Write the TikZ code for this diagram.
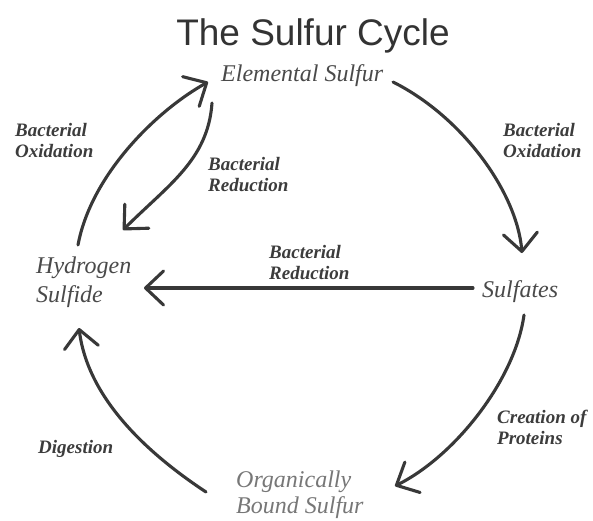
\documentclass[tikz,border=0pt]{standalone}
\usepackage{fontspec}
\setmainfont{Liberation Serif}
\newfontfamily\titlefont{Liberation Sans}
\usetikzlibrary{arrows.meta}
\definecolor{linec}{HTML}{383838}
\definecolor{maintext}{HTML}{4A4A4A}
\definecolor{lighttext}{HTML}{777777}
\definecolor{labeltext}{HTML}{3C3C3C}
\definecolor{titletext}{HTML}{333333}
\begin{document}
\begin{tikzpicture}[x=1pt,y=-1pt,
  arr/.style={line width=3.1pt, draw=linec, line cap=round, line join=round,
    -{Straight Barb[length=18pt,width=34pt,round]}},
  main/.style={inner sep=0pt, text=maintext, font=\itshape\fontsize{24}{29}\selectfont, align=left},
  lbl/.style={inner sep=0pt, text=labeltext, font=\bfseries\itshape\fontsize{19}{21}\selectfont, align=left},
]
\fill[white] (0,0) rectangle (593,520);
\useasboundingbox (0,0) rectangle (593,520);

% title
\node[anchor=base, inner sep=0pt, text=titletext, font=\titlefont\fontsize{37}{40}\selectfont] (title) at (313,45) {The Sulfur Cycle};

% compounds
\node[main, anchor=base west] (es) at (221,81) {Elemental Sulfur};
\node[main, anchor=north west] (hs) at (36,257) {Hydrogen\\Sulfide};
\node[main, anchor=base west] (sf) at (482,297) {Sulfates};
\node[main, anchor=north west, text=lighttext, font=\itshape\fontsize{24}{26}\selectfont] (ob) at (236,471) {Organically\\Bound Sulfur};

% process labels
\node[lbl, anchor=north west] (l1) at (15,123) {Bacterial\\Oxidation};
\node[lbl, anchor=north west] (l2) at (208,157) {Bacterial\\Reduction};
\node[lbl, anchor=north west] (l3) at (503,123) {Bacterial\\Oxidation};
\node[lbl, anchor=north west] (l4) at (269,245) {Bacterial\\Reduction};
\node[lbl, anchor=north west] (l5) at (497,410) {Creation of\\Proteins};
\node[lbl, anchor=north west] (l6) at (38,440) {Digestion};

% connector end points
\coordinate (hsN) at (78,245);
\coordinate (hsE) at (144,288);
\coordinate (hsNE) at (123,230);
\coordinate (hsS) at (79,328);
\coordinate (esW) at (208,82);
\coordinate (esSW) at (212,103);
\coordinate (esE) at (393,82);
\coordinate (sfN) at (522,253);
\coordinate (sfW) at (473,288);
\coordinate (sfS) at (524,315);
\coordinate (obE) at (395,486);
\coordinate (obW) at (206,492);

% connectors
\draw[arr] (hsN) .. controls (91,175) and (156,111) .. (esW);
\draw[arr] (esSW) .. controls (208,160) and (168,185) .. (hsNE);
\draw[arr] (esE) .. controls (463,117) and (517,193) .. (sfN);
\draw[arr] (sfW) -- (hsE);
\draw[arr] (sfS) .. controls (515,380) and (455,456) .. (obE);
\draw[arr] (obW) .. controls (150,455) and (88,400) .. (hsS);
\end{tikzpicture}
\end{document}
